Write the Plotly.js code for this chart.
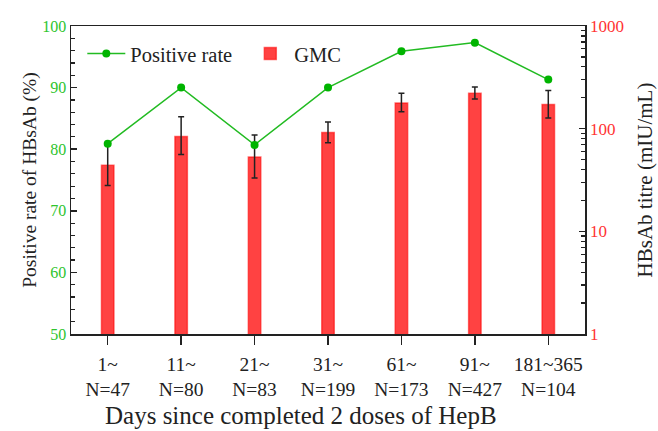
<!DOCTYPE html>
<html>
<head>
<meta charset="utf-8">
<script src="https://cdn.plot.ly/plotly-3.0.1.min.js"></script>
<style>body{margin:0;padding:0;background:#fff}#chart{width:658px;height:431px}</style>
</head>
<body>
<div id="chart"></div>
<script>
var categories = ["1~<br>N=47", "11~<br>N=80", "21~<br>N=83", "31~<br>N=199", "61~<br>N=173", "91~<br>N=427", "181~365<br>N=104"];
var positiveRate = [80.9, 90.0, 80.7, 90.0, 95.9, 97.3, 91.3];
var gmc = [44, 84, 53, 92, 178, 221, 172];
var gmcUpper = [70, 131, 87, 116, 221, 255, 235];
var gmcLower = [28, 56, 33, 73, 146, 194, 127];
var rightTicks = [1, 10, 100, 1000];
var rightTickText = ["1", "10", "100", "1000"];
var xTitle = "Days since completed 2 doses of HepB";

var errPlus = gmc.map(function (v, i) { return gmcUpper[i] - v; });
var errMinus = gmc.map(function (v, i) { return v - gmcLower[i]; });

var FONT = "Liberation Serif, Times New Roman, serif";
var GREEN = "#2ec42e";
var RED = "#ff3333";

var traces = [
  {
    type: "bar",
    name: "GMC",
    x: categories,
    y: gmc,
    yaxis: "y",
    width: 0.17,
    marker: { color: "rgba(255,40,40,0.88)", line: { color: "rgba(255,0,0,0.55)", width: 1.5 } },
    error_y: { type: "data", symmetric: false, array: errPlus, arrayminus: errMinus, color: "#222", thickness: 1.5, width: 3 },
    legendrank: 2
  },
  {
    type: "scatter",
    mode: "lines+markers",
    name: "Positive rate",
    x: categories,
    y: positiveRate,
    yaxis: "y2",
    line: { color: "#22bb22", width: 1.5 },
    marker: { color: "#00b400", size: 8 },
    legendrank: 1
  }
];

var layout = {
  width: 658,
  height: 431,
  margin: { l: 71, r: 73, t: 26, b: 97 },
  paper_bgcolor: "#fff",
  plot_bgcolor: "#fff",
  font: { family: FONT, size: 16, color: "#222" },
  showlegend: true,
  legend: {
    orientation: "h",
    x: 0.022, y: 0.975, xanchor: "left", yanchor: "top",
    font: { family: FONT, size: 20.5, color: "#222" },
    bgcolor: "rgba(0,0,0,0)",
    itemwidth: 38,
    entrywidth: 111,
    entrywidthmode: "pixels",
    tracegroupgap: 0
  },
  xaxis: {
    type: "category",
    range: [-0.5, 6.5],
    showline: true, linecolor: "#222", linewidth: 1.5, mirror: true,
    ticks: "outside", ticklen: 9, tickwidth: 1.5, tickcolor: "#222",
    ticklabelstandoff: 3,
    showgrid: false, zeroline: false,
    tickfont: { family: FONT, size: 19.5, color: "#222" }
  },
  yaxis: {
    type: "log",
    side: "right",
    range: [0, 3],
    tickvals: rightTicks,
    ticktext: rightTickText,
    showline: true, linecolor: "#222", linewidth: 1.5,
    ticks: "inside", ticklen: 6, tickwidth: 1.5, tickcolor: "#222",
    minor: { ticks: "inside", ticklen: 4, tickwidth: 1.2, tickcolor: "#222", dtick: "D1", showgrid: false },
    showgrid: false, zeroline: false,
    tickfont: { family: FONT, size: 17, color: RED },
    title: { text: "HBsAb titre (mIU/mL)", font: { family: FONT, size: 21, color: "#222" }, standoff: 14 }
  },
  yaxis2: {
    overlaying: "y",
    side: "left",
    range: [50, 100],
    dtick: 10,
    showline: true, linecolor: "#222", linewidth: 1.5,
    ticks: "inside", ticklen: 6, tickwidth: 1.5, tickcolor: "#222",
    minor: { ticks: "inside", ticklen: 4, tickwidth: 1.2, tickcolor: "#222", dtick: 2, showgrid: false },
    showgrid: false, zeroline: false,
    tickfont: { family: FONT, size: 16, color: GREEN },
    title: { text: "Positive rate of HBsAb (%)", font: { family: FONT, size: 19.5, color: "#222" }, standoff: 0 }
  },
  annotations: [
    {
      text: xTitle,
      xref: "paper", yref: "paper",
      x: 0.447, y: -0.265,
      xanchor: "center", yanchor: "middle",
      showarrow: false,
      font: { family: FONT, size: 25, color: "#222" }
    }
  ]
};

Plotly.newPlot("chart", traces, layout, { displayModeBar: false, staticPlot: true });
</script>
</body>
</html>
